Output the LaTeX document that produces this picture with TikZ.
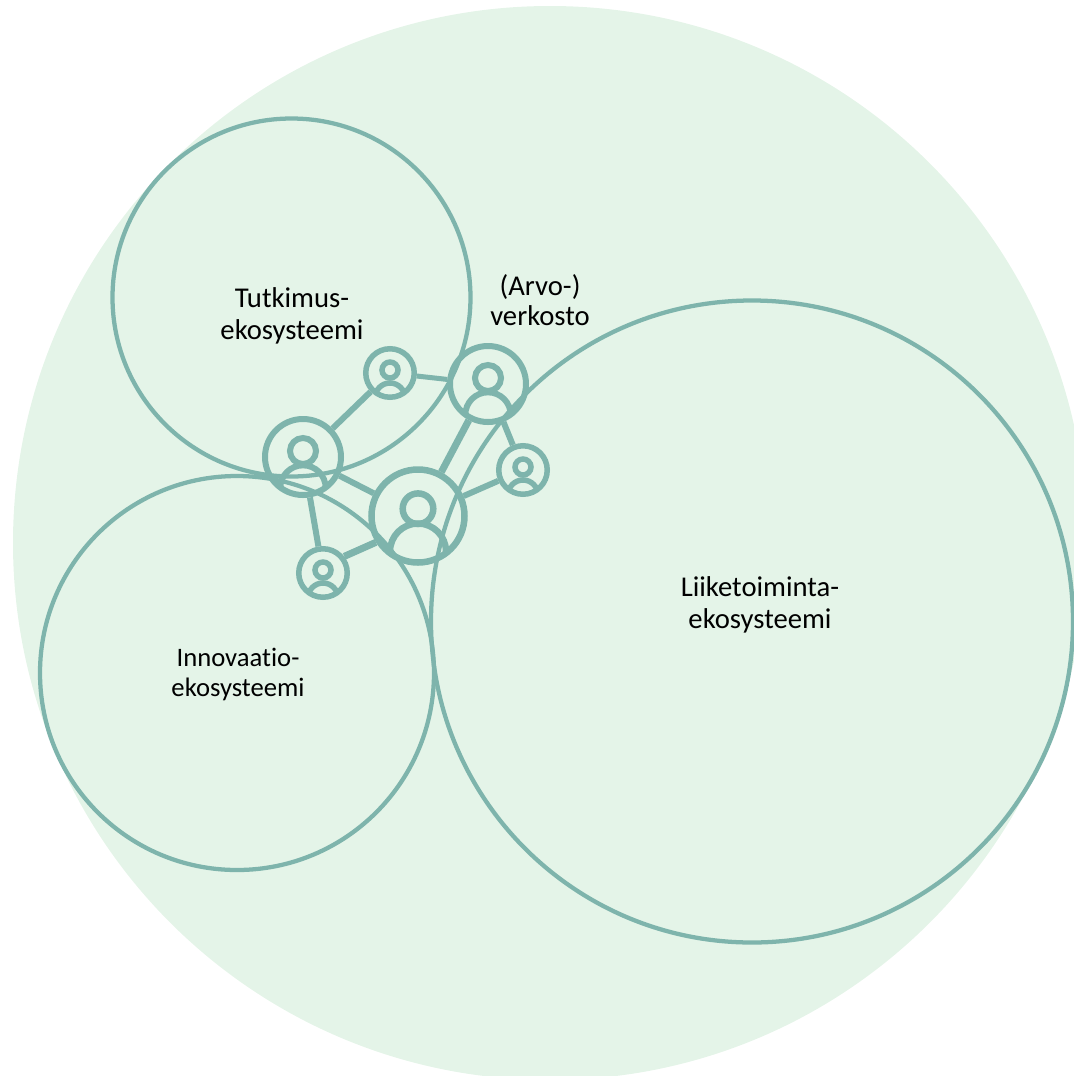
\documentclass[tikz,border=0pt]{standalone}
\usepackage{fontspec}
\setmainfont{Carlito}[Ligatures=NoCommon]
\definecolor{bgcol}{HTML}{E4F4E8}
\definecolor{linecol}{HTML}{7EB4AC}
\tikzset{
  eco/.style={circle, draw=linecol, line width=3.2pt, inner sep=0pt, minimum size=#1*0.75pt},
  personicon/.style n args={6}{circle, draw=linecol, inner sep=0pt, minimum size=#1*0.75pt, line width=#2*0.75pt,
    path picture={
      \draw[linecol, line width=#2*0.75pt] ([yshift=-#4*0.75pt]path picture bounding box.center) circle ({#3*0.75pt});
      \draw[linecol, line width=#2*0.75pt] ([yshift=-#5*0.75pt]path picture bounding box.center) circle ({#6*0.75pt});
    }},
  smallperson/.style={personicon={48.5}{5.5}{8}{-3}{25}{15}},
  bigperson/.style={personicon={76}{6}{13}{-6}{31}{22.7}},
  hugeperson/.style={personicon={93}{6.5}{15.3}{-7.3}{35.5}{28}},
  lbl/.style 2 args={align=center, text=black, font=\fontsize{#1}{#2}\selectfont},
  link/.style={draw=linecol, line width=#1*0.75pt}
}
\begin{document}
\begin{tikzpicture}[x=0.75pt, y=-0.75pt]
\useasboundingbox (0,0) rectangle (1074,1076);
\clip (0,0) rectangle (1074,1076);

% Background
\node (world) [circle, fill=bgcol, inner sep=0pt, minimum size=1074*0.75pt] at (550,543) {};

% Ecosystems
\node (research) [eco=358] at (291.5,297.5) {};
\node (innovation) [eco=394] at (237,673) {};
\node (business) [eco=642] at (752,621.5) {};

% Actors
\node (actorA) [bigperson] at (488,384) {};
\node (actorB) [bigperson] at (303,457) {};
\node (actorC) [hugeperson] at (418,516) {};
\node (actorD) [smallperson] at (390,373) {};
\node (actorE) [smallperson] at (523,470) {};
\node (actorF) [smallperson] at (323,573) {};

% Links
\draw[link=5] (actorD) -- (actorA);
\draw[link=6] (actorD) -- (actorB);
\draw[link=6] (actorB) -- (actorC);
\draw[link=6] (actorB) -- (actorF);
\draw[link=7] (actorF.38) -- (actorC.212);
\draw[link=7] (actorC) -- (actorA);
\draw[link=6] (actorC) -- (actorE);
\draw[link=6] (actorA) -- (actorE);

% Labels
\node (researchlbl) [lbl={21.5pt}{24pt}] at (292,316) {Tutkimus-\\ekosysteemi};
\node (networklbl) [lbl={21.5pt}{22.5pt}] at (540,300.5) {(Arvo-)\\verkosto};
\node (businesslbl) [lbl={21.5pt}{24pt}] at (760,605) {Liiketoiminta-\\ekosysteemi};
\node (innovationlbl) [lbl={20pt}{22.5pt}] at (238,674) {Innovaatio-\\ekosysteemi};
\end{tikzpicture}
\end{document}
